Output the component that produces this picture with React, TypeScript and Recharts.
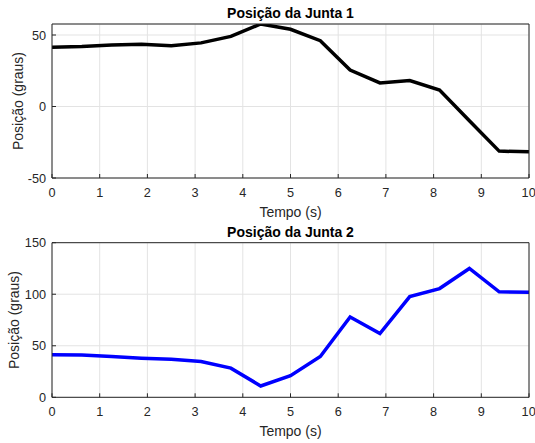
import { LineChart, Line, XAxis, YAxis, CartesianGrid } from 'recharts';

const TIME = [0, 0.625, 1.25, 1.875, 2.5, 3.125, 3.75, 4.375, 5, 5.625, 6.25, 6.875, 7.5, 8.125, 8.75, 9.375, 10];
const JUNTA1 = [41.5, 42, 43, 43.5, 42.5, 44.5, 49, 57.7, 54, 46, 25.5, 16.5, 18.2, 11.5, -10, -31.2, -31.7];
const JUNTA2 = [41.2, 41, 39.6, 38, 37, 34.8, 28.3, 11, 21, 39.6, 78, 61.8, 97.7, 105.5, 125, 102.3, 102];

const X_TICKS = [0, 1, 2, 3, 4, 5, 6, 7, 8, 9, 10];
const Y1_TICKS = [-50, 0, 50];
const Y2_TICKS = [0, 50, 100, 150];

const FONT = '"Liberation Sans", Arial, Helvetica, sans-serif';
const AXIS = '#262626';

const data1 = TIME.map((t, i) => ({ t, v: JUNTA1[i] }));
const data2 = TIME.map((t, i) => ({ t, v: JUNTA2[i] }));

const tickStyle = { fill: AXIS, fontSize: 12.7, fontFamily: FONT };

function Subplot({ data, color, title, yDomain, yTicks, top, marginTop, xAxisHeight, ylabelX }: any) {
  const titleLabel = ({ viewBox }: any) => (
    <text x={viewBox.x + viewBox.width / 2} y={viewBox.y + viewBox.height - 6} textAnchor="middle"
      fontFamily={FONT} fontSize={14} fontWeight="bold" fill="#000">{title}</text>
  );
  const xLabel = ({ viewBox }: any) => (
    <text x={viewBox.x + viewBox.width / 2} y={viewBox.y + 38.5} textAnchor="middle"
      fontFamily={FONT} fontSize={14} fill={AXIS}>Tempo (s)</text>
  );
  const yLabel = ({ viewBox }: any) => {
    const cy = viewBox.y + viewBox.height / 2;
    return (
      <text x={ylabelX} y={cy} dy="0.35em" textAnchor="middle" transform={`rotate(-90, ${ylabelX}, ${cy})`}
        fontFamily={FONT} fontSize={14} fill={AXIS}>Posição (graus)</text>
    );
  };
  return (
    <div style={{ position: 'absolute', left: 0, top }}>
      <LineChart width={535} height={230} data={data} margin={{ top: marginTop - 1, right: 5, bottom: 10, left: 0 }}>
        <CartesianGrid stroke="#e3e3e3" strokeWidth={1} />
        <XAxis dataKey="t" type="number" domain={[0, 10]} ticks={X_TICKS} allowDataOverflow
          height={xAxisHeight} tick={tickStyle} tickSize={-4} tickMargin={13.5}
          axisLine={{ stroke: AXIS }} tickLine={{ stroke: AXIS }} label={xLabel} />
        <XAxis xAxisId="top" orientation="top" dataKey="t" type="number" domain={[0, 10]} ticks={X_TICKS}
          allowDataOverflow height={1} tick={false} tickSize={-4} axisLine={{ stroke: AXIS }}
          tickLine={{ stroke: AXIS }} label={titleLabel} />
        <YAxis type="number" domain={yDomain} ticks={yTicks} allowDataOverflow width={52}
          tick={tickStyle} tickSize={-4} tickMargin={10} axisLine={{ stroke: AXIS }} tickLine={{ stroke: AXIS }} label={yLabel} />
        <YAxis yAxisId="right" orientation="right" type="number" domain={yDomain} ticks={yTicks} width={1}
          allowDataOverflow tick={false} tickSize={-4} axisLine={{ stroke: AXIS }} tickLine={{ stroke: AXIS }} />
        <Line type="linear" dataKey="v" stroke={color} strokeWidth={3.5} dot={false} isAnimationActive={false} />
      </LineChart>
    </div>
  );
}

export default function App() {
  return (
    <div style={{ position: 'absolute', left: 0, top: 0, width: 535, height: 443, background: '#fff' }}>
      <Subplot data={data1} color="#000000" title="Posição da Junta 1" yDomain={[-50, 57.7]} yTicks={Y1_TICKS}
        top={0} marginTop={24} xAxisHeight={42} ylabelX={18} />
      <Subplot data={data2} color="#0000ff" title="Posição da Junta 2" yDomain={[0, 150]} yTicks={Y2_TICKS}
        top={220} marginTop={22.7} xAxisHeight={42.7} ylabelX={14} />
    </div>
  );
}
